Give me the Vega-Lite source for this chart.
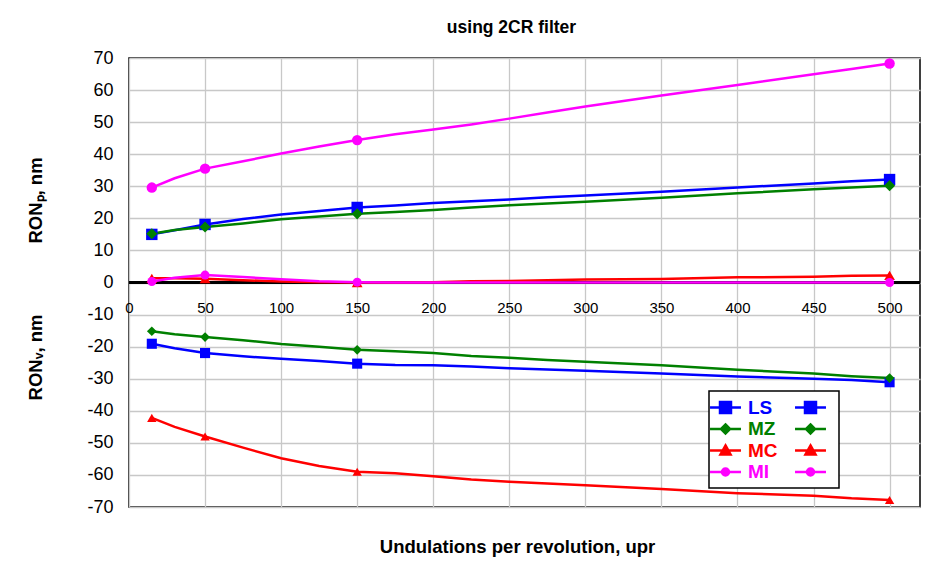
{
  "$schema": "https://vega.github.io/schema/vega-lite/v6.json",
  "width": 791,
  "height": 449,
  "autosize": {"type": "none"},
  "padding": {"left": 129, "top": 58, "right": 31, "bottom": 60},
  "background": "white",
  "title": {"text": "using 2CR filter", "fontSize": 17.5, "fontWeight": "bold", "font": "Liberation Sans", "color": "#000", "offset": 13, "dx": -13},
  "data": {"values": [
    {"k":"LS","x":15,"v":15.0},{"k":"LS","x":30,"v":16.3},{"k":"LS","x":50,"v":18.1},{"k":"LS","x":75,"v":19.8},{"k":"LS","x":100,"v":21.2},{"k":"LS","x":125,"v":22.3},{"k":"LS","x":150,"v":23.4},{"k":"LS","x":175,"v":24.0},{"k":"LS","x":200,"v":24.8},{"k":"LS","x":225,"v":25.3},{"k":"LS","x":250,"v":25.9},{"k":"LS","x":275,"v":26.6},{"k":"LS","x":300,"v":27.1},{"k":"LS","x":350,"v":28.3},{"k":"LS","x":400,"v":29.6},{"k":"LS","x":450,"v":30.9},{"k":"LS","x":475,"v":31.6},{"k":"LS","x":500,"v":32.1},
    {"k":"MZ","x":15,"v":15.2},{"k":"MZ","x":30,"v":16.4},{"k":"MZ","x":50,"v":17.3},{"k":"MZ","x":75,"v":18.4},{"k":"MZ","x":100,"v":19.7},{"k":"MZ","x":125,"v":20.6},{"k":"MZ","x":150,"v":21.4},{"k":"MZ","x":175,"v":22.0},{"k":"MZ","x":200,"v":22.6},{"k":"MZ","x":225,"v":23.4},{"k":"MZ","x":250,"v":24.1},{"k":"MZ","x":275,"v":24.6},{"k":"MZ","x":300,"v":25.2},{"k":"MZ","x":350,"v":26.4},{"k":"MZ","x":400,"v":27.8},{"k":"MZ","x":450,"v":29.1},{"k":"MZ","x":475,"v":29.6},{"k":"MZ","x":500,"v":30.2},
    {"k":"MC","x":15,"v":1.3},{"k":"MC","x":30,"v":1.3},{"k":"MC","x":50,"v":1.2},{"k":"MC","x":75,"v":0.7},{"k":"MC","x":100,"v":0.3},{"k":"MC","x":125,"v":0.1},{"k":"MC","x":150,"v":0.0},{"k":"MC","x":175,"v":0.0},{"k":"MC","x":200,"v":0.1},{"k":"MC","x":225,"v":0.4},{"k":"MC","x":250,"v":0.5},{"k":"MC","x":275,"v":0.7},{"k":"MC","x":300,"v":0.9},{"k":"MC","x":350,"v":1.1},{"k":"MC","x":400,"v":1.6},{"k":"MC","x":450,"v":1.8},{"k":"MC","x":475,"v":2.1},{"k":"MC","x":500,"v":2.2},
    {"k":"MI","x":15,"v":29.6},{"k":"MI","x":30,"v":32.5},{"k":"MI","x":50,"v":35.5},{"k":"MI","x":75,"v":37.8},{"k":"MI","x":100,"v":40.2},{"k":"MI","x":125,"v":42.4},{"k":"MI","x":150,"v":44.4},{"k":"MI","x":175,"v":46.2},{"k":"MI","x":200,"v":47.7},{"k":"MI","x":225,"v":49.3},{"k":"MI","x":250,"v":51.1},{"k":"MI","x":275,"v":53.0},{"k":"MI","x":300,"v":54.9},{"k":"MI","x":350,"v":58.3},{"k":"MI","x":400,"v":61.6},{"k":"MI","x":450,"v":64.9},{"k":"MI","x":475,"v":66.6},{"k":"MI","x":500,"v":68.3},
    {"k":"LS_V","x":15,"v":-19.1},{"k":"LS_V","x":30,"v":-20.5},{"k":"LS_V","x":50,"v":-22.0},{"k":"LS_V","x":75,"v":-23.0},{"k":"LS_V","x":100,"v":-23.8},{"k":"LS_V","x":125,"v":-24.5},{"k":"LS_V","x":150,"v":-25.3},{"k":"LS_V","x":175,"v":-25.7},{"k":"LS_V","x":200,"v":-25.8},{"k":"LS_V","x":225,"v":-26.2},{"k":"LS_V","x":250,"v":-26.7},{"k":"LS_V","x":275,"v":-27.1},{"k":"LS_V","x":300,"v":-27.5},{"k":"LS_V","x":350,"v":-28.4},{"k":"LS_V","x":400,"v":-29.3},{"k":"LS_V","x":450,"v":-30.0},{"k":"LS_V","x":475,"v":-30.4},{"k":"LS_V","x":500,"v":-31.1},
    {"k":"MZ_V","x":15,"v":-15.2},{"k":"MZ_V","x":30,"v":-16.1},{"k":"MZ_V","x":50,"v":-17.0},{"k":"MZ_V","x":75,"v":-18.0},{"k":"MZ_V","x":100,"v":-19.2},{"k":"MZ_V","x":125,"v":-20.0},{"k":"MZ_V","x":150,"v":-21.0},{"k":"MZ_V","x":175,"v":-21.4},{"k":"MZ_V","x":200,"v":-22.0},{"k":"MZ_V","x":225,"v":-22.9},{"k":"MZ_V","x":250,"v":-23.5},{"k":"MZ_V","x":275,"v":-24.2},{"k":"MZ_V","x":300,"v":-24.7},{"k":"MZ_V","x":350,"v":-25.8},{"k":"MZ_V","x":400,"v":-27.2},{"k":"MZ_V","x":450,"v":-28.4},{"k":"MZ_V","x":475,"v":-29.2},{"k":"MZ_V","x":500,"v":-29.8},
    {"k":"MC_V","x":15,"v":-42.2},{"k":"MC_V","x":30,"v":-45.0},{"k":"MC_V","x":50,"v":-48.0},{"k":"MC_V","x":75,"v":-51.5},{"k":"MC_V","x":100,"v":-54.8},{"k":"MC_V","x":125,"v":-57.2},{"k":"MC_V","x":150,"v":-59.0},{"k":"MC_V","x":175,"v":-59.5},{"k":"MC_V","x":200,"v":-60.4},{"k":"MC_V","x":225,"v":-61.4},{"k":"MC_V","x":250,"v":-62.1},{"k":"MC_V","x":275,"v":-62.7},{"k":"MC_V","x":300,"v":-63.2},{"k":"MC_V","x":350,"v":-64.4},{"k":"MC_V","x":400,"v":-65.7},{"k":"MC_V","x":450,"v":-66.5},{"k":"MC_V","x":475,"v":-67.3},{"k":"MC_V","x":500,"v":-67.8},
    {"k":"MI_V","x":15,"v":0.3},{"k":"MI_V","x":30,"v":1.5},{"k":"MI_V","x":50,"v":2.3},{"k":"MI_V","x":75,"v":1.7},{"k":"MI_V","x":100,"v":1.0},{"k":"MI_V","x":125,"v":0.4},{"k":"MI_V","x":150,"v":0.1},{"k":"MI_V","x":175,"v":0.0},{"k":"MI_V","x":200,"v":0.0},{"k":"MI_V","x":250,"v":0.0},{"k":"MI_V","x":300,"v":0.0},{"k":"MI_V","x":350,"v":0.0},{"k":"MI_V","x":400,"v":0.0},{"k":"MI_V","x":450,"v":0.0},{"k":"MI_V","x":500,"v":0.0}
  ]},
  "config": {
    "font": "Liberation Sans",
    "view": {"stroke": "#000", "strokeWidth": 1.5},
    "axis": {"labelFont": "Liberation Sans", "labelColor": "#000", "titleFont": "Liberation Sans", "titleFontWeight": "bold", "titleColor": "#000", "gridColor": "#c8c8c8", "gridWidth": 1.3, "gridOpacity": 1, "ticks": false, "tickSize": 0, "domain": false, "labelOverlap": false, "labelExpr": "replace(datum.label, '−', '-')"},
    "axisX": {"labelFontSize": 15, "labelPadding": -207, "labelFlush": false, "titleFontSize": 18.5, "titleY": 39, "titleBaseline": "middle", "titleX": 388, "tickCount": 30},
    "axisY": {"labelFontSize": 18, "labelPadding": 16, "titleFontSize": 18.5, "titleX": -94, "titleBaseline": "middle", "tickCount": 30},
    "legend": {
      "orient": "none", "legendX": 580, "legendY": 333, "columns": 2, "direction": "horizontal", "title": null,
      "padding": 6, "strokeColor": "#000", "fillColor": "#fff", "strokeWidth": 1.5,
      "symbolSize": 324, "symbolStrokeWidth": 2.5,
      "labelFontSize": 19, "labelFont": "Liberation Sans", "labelFontWeight": "bold",
      "labelOffset": 12, "rowPadding": 0.5, "columnPadding": 12
    }
  },
  "layer": [
    {
      "transform": [{"filter": "indexof(datum.k, '_V') < 0"}],
      "layer": [
        {
          "mark": {"type": "rule", "color": "#000", "strokeWidth": 1.5},
          "encoding": {"y": {"datum": 0, "type": "quantitative", "title": "RONₚ, nm"}}
        },
        {
          "mark": {"type": "line", "strokeWidth": 2.5},
          "encoding": {
            "x": {"field": "x", "type": "quantitative", "scale": {"domain": [0, 520], "nice": false, "zero": false}, "title": "Undulations per revolution, upr", "axis": {"values": [0,50,100,150,200,250,300,350,400,450,500], "tickCount": 30, "grid": true}},
            "y": {"field": "v", "type": "quantitative", "scale": {"domain": [-70, 70], "nice": false}, "title": "RONₚ, nm", "axis": {"values": [-70,-60,-50,-40,-30,-20,-10,0,10,20,30,40,50,60,70], "titleY": 142, "tickCount": 30, "grid": true}},
            "stroke": {"field": "k", "type": "nominal",
              "scale": {"domain": ["LS","LS_V","MZ","MZ_V","MC","MC_V","MI","MI_V"], "range": ["#0000ff","#0000ff","#008000","#008000","#ff0000","#ff0000","#ff00ff","#ff00ff"]},
              "legend": {
                "labelExpr": "length(datum.label) > 2 ? '' : datum.label",
                "encode": {
                  "symbols": {"update": {
                    "shape": {"signal": "slice(datum.value,0,2)=='LS' ? 'M-1.72,0H1.72M-0.61,-0.61H0.61V0.61H-0.61Z' : slice(datum.value,0,2)=='MZ' ? 'M-1.72,0H1.72M0,-0.5L0.5,0L0,0.5L-0.5,0Z' : slice(datum.value,0,2)=='MC' ? 'M-1.72,0H1.72M0,-0.56L0.56,0.45L-0.56,0.45Z' : 'M-1.72,0H1.72M-0.39,0A0.39,0.39,0,1,0,0.39,0A0.39,0.39,0,1,0,-0.39,0Z'"},
                    "fill": {"scale": "stroke", "field": "value"},
                    "stroke": {"scale": "stroke", "field": "value"},
                    "strokeWidth": {"value": 2.5},
                    "size": {"value": 324},
                    "opacity": {"value": 1}
                  }},
                  "labels": {"update": {"fill": {"scale": "stroke", "field": "value"}}}
                }
              }
            }
          }
        },
        {
          "transform": [{"filter": "datum.x == 15 || datum.x == 50 || datum.x == 150 || datum.x == 500"}],
          "mark": {"type": "point", "filled": true, "opacity": 1, "strokeWidth": 0},
          "encoding": {
            "x": {"field": "x", "type": "quantitative", "title": "Undulations per revolution, upr"},
            "y": {"field": "v", "type": "quantitative", "title": "RONₚ, nm"},
            "color": {"field": "k", "type": "nominal", "legend": null, "scale": {"domain": ["LS","MZ","MC","MI","LS_V","MZ_V","MC_V","MI_V"], "range": ["#0000ff","#008000","#ff0000","#ff00ff","#0000ff","#008000","#ff0000","#ff00ff"]}},
            "shape": {"field": "k", "type": "nominal", "legend": null, "scale": {"domain": ["LS","MZ","MC","MI","LS_V","MZ_V","MC_V","MI_V"], "range": ["square","diamond","triangle-up","circle","square","diamond","triangle-up","circle"]}},
            "size": {"field": "k", "type": "nominal", "legend": null, "scale": {"domain": ["LS","MZ","MC","MI","LS_V","MZ_V","MC_V","MI_V"], "range": [130,81,100,64,130,81,100,64]}}
          }
        }
      ]
    },
    {
      "transform": [{"filter": "indexof(datum.k, '_V') >= 0"}],
      "layer": [
        {
          "mark": {"type": "line", "strokeWidth": 2.5},
          "encoding": {
            "x": {"field": "x", "type": "quantitative", "title": "Undulations per revolution, upr"},
            "y": {"field": "v", "type": "quantitative", "scale": {"domain": [-70, 70], "nice": false}, "title": "RONᵥ, nm", "axis": {"orient": "left", "labels": false, "grid": false, "titleY": 299}},
            "stroke": {"field": "k", "type": "nominal"}
          }
        },
        {
          "transform": [{"filter": "datum.x == 15 || datum.x == 50 || datum.x == 150 || datum.x == 500"}],
          "mark": {"type": "point", "filled": true, "opacity": 1, "strokeWidth": 0},
          "encoding": {
            "x": {"field": "x", "type": "quantitative", "title": "Undulations per revolution, upr"},
            "y": {"field": "v", "type": "quantitative", "title": "RONᵥ, nm"},
            "color": {"field": "k", "type": "nominal", "legend": null},
            "shape": {"field": "k", "type": "nominal", "legend": null},
            "size": {"field": "k", "type": "nominal", "legend": null}
          }
        }
      ]
    }
  ],
  "resolve": {"scale": {"y": "independent"}, "axis": {"y": "independent"}}
}
